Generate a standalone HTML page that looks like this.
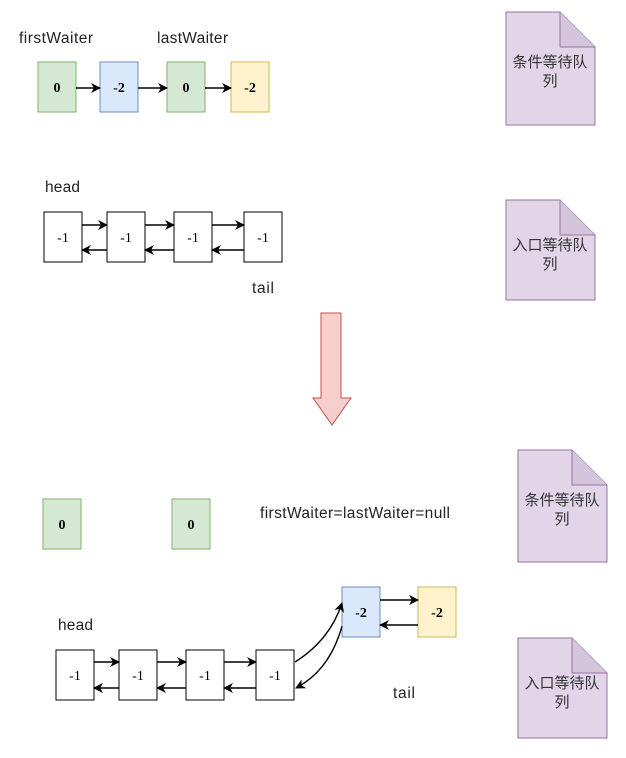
<!DOCTYPE html>
<html><head><meta charset="utf-8"><style>body{margin:0;background:#fff}</style></head><body>
<svg width="626" height="753" xmlns="http://www.w3.org/2000/svg" font-family="Liberation Sans, sans-serif">
<defs><marker id="a" markerWidth="10" markerHeight="10" refX="9" refY="5" orient="auto" markerUnits="userSpaceOnUse"><path d="M0,0 L10,5 L0,10 L3,5z" fill="#000"/></marker></defs>
<g font-size="15.5" fill="#222">
<text x="19" y="43" textLength="74">firstWaiter</text><text x="157" y="43" textLength="71">lastWaiter</text>
<text x="45" y="192" textLength="35">head</text><text x="252" y="293" textLength="22">tail</text>
<text x="260" y="518" textLength="190">firstWaiter=lastWaiter=null</text>
<text x="58" y="630" textLength="35">head</text><text x="393" y="698" textLength="22">tail</text>
</g>
<g font-family="Liberation Serif, serif" font-size="14" font-weight="bold" text-anchor="middle">
<rect x="38" y="62" width="38" height="50" fill="#d5e8d4" stroke="#82b366"/><text x="57" y="92">0</text>
<rect x="100" y="62" width="38" height="50" fill="#dae8fc" stroke="#6c8ebf"/><text x="119" y="92">-2</text>
<rect x="167" y="62" width="38" height="50" fill="#d5e8d4" stroke="#82b366"/><text x="186" y="92">0</text>
<rect x="231" y="62" width="38" height="50" fill="#fff2cc" stroke="#d6b656"/><text x="250" y="92">-2</text>
<rect x="43" y="499" width="38" height="50" fill="#d5e8d4" stroke="#82b366"/><text x="62" y="529">0</text>
<rect x="172" y="499" width="38" height="50" fill="#d5e8d4" stroke="#82b366"/><text x="191" y="529">0</text>
<rect x="342" y="587" width="38" height="50" fill="#dae8fc" stroke="#6c8ebf"/><text x="361" y="617">-2</text>
<rect x="418" y="587" width="38" height="50" fill="#fff2cc" stroke="#d6b656"/><text x="437" y="617">-2</text>
</g>
<g stroke="#000" fill="#fff">
<rect x="44" y="212" width="38" height="50"/><rect x="107" y="212" width="38" height="50"/><rect x="174" y="212" width="38" height="50"/><rect x="244" y="212" width="38" height="50"/>
<rect x="56" y="650" width="38" height="50"/><rect x="119" y="650" width="38" height="50"/><rect x="186" y="650" width="38" height="50"/><rect x="256" y="650" width="38" height="50"/>
</g>
<g font-family="Liberation Serif, serif" font-size="14" text-anchor="middle">
<text x="63" y="242">-1</text><text x="126" y="242">-1</text><text x="193" y="242">-1</text><text x="263" y="242">-1</text>
<text x="75" y="680">-1</text><text x="138" y="680">-1</text><text x="205" y="680">-1</text><text x="275" y="680">-1</text>
</g>
<g stroke="#000" stroke-width="1.4" fill="none" marker-end="url(#a)">
<line x1="76" y1="88" x2="100" y2="88"/><line x1="138" y1="88" x2="167" y2="88"/><line x1="205" y1="88" x2="231" y2="88"/>
<line x1="82" y1="225" x2="107" y2="225"/><line x1="145" y1="225" x2="174" y2="225"/><line x1="212" y1="225" x2="244" y2="225"/>
<line x1="107" y1="250" x2="82" y2="250"/><line x1="174" y1="250" x2="145" y2="250"/><line x1="244" y1="250" x2="212" y2="250"/>
<line x1="94" y1="662" x2="119" y2="662"/><line x1="157" y1="662" x2="186" y2="662"/><line x1="224" y1="662" x2="256" y2="662"/>
<line x1="119" y1="688" x2="94" y2="688"/><line x1="186" y1="688" x2="157" y2="688"/><line x1="256" y1="688" x2="224" y2="688"/>
<line x1="380" y1="600" x2="418" y2="600"/><line x1="418" y1="625" x2="380" y2="625"/>
<path d="M295,662 Q330,640 342,603"/><path d="M342,626 Q330,670 296,688"/>
</g>
<path d="M321,313 H341 V398 H351 L332,425 L313,398 H321Z" fill="#f8cecc" stroke="#b85450"/>
<g fill="#e1d5e7" stroke="#9673a6">
<path d="M506,12 H560 L595,47 V125 H506Z"/><path d="M560,12 V47 H595" fill="#d4c5dc"/>
<path d="M506,200 H560 L595,235 V300 H506Z"/><path d="M560,200 V235 H595" fill="#d4c5dc"/>
<path d="M518,450 H572 L607,485 V562 H518Z"/><path d="M572,450 V485 H607" fill="#d4c5dc"/>
<path d="M518,638 H572 L607,673 V738 H518Z"/><path d="M572,638 V673 H607" fill="#d4c5dc"/>
</g>
<g font-family="Liberation Sans, Noto Sans CJK SC, sans-serif" font-size="15" fill="#333" text-anchor="middle">
<text x="550" y="67">条件等待队</text><text x="550" y="86">列</text>
<text x="550" y="250">入口等待队</text><text x="550" y="269">列</text>
<text x="562" y="505">条件等待队</text><text x="562" y="524">列</text>
<text x="562" y="688">入口等待队</text><text x="562" y="707">列</text>
</g>
</svg>
</body></html>
